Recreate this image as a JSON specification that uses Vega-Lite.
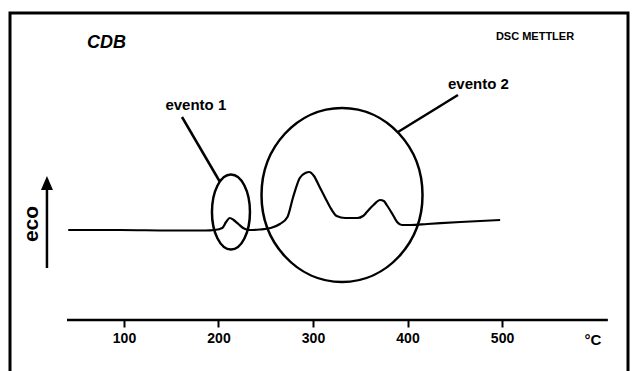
{
  "$schema": "https://vega.github.io/schema/vega-lite/v6.json",
  "width": 618,
  "height": 380,
  "autosize": {"type": "none"},
  "padding": {"left": 10, "top": 13, "right": 4, "bottom": 0},
  "background": "white",
  "config": {
    "view": {"stroke": "black", "strokeWidth": 3},
    "font": "Liberation Sans",
    "text": {"font": "Liberation Sans", "color": "black"}
  },
  "datasets": {
    "curve": [
      {"T": 41, "v": 163}, {"T": 96, "v": 163}, {"T": 149, "v": 162.5}, {"T": 186, "v": 162.5},
      {"T": 196, "v": 163}, {"T": 204, "v": 165}, {"T": 208, "v": 171}, {"T": 212, "v": 175},
      {"T": 216, "v": 173}, {"T": 221, "v": 169}, {"T": 226, "v": 165}, {"T": 233, "v": 163},
      {"T": 244, "v": 163.5}, {"T": 255, "v": 165}, {"T": 265, "v": 169}, {"T": 273, "v": 176},
      {"T": 279, "v": 196}, {"T": 286, "v": 215}, {"T": 292, "v": 220}, {"T": 296, "v": 221},
      {"T": 301, "v": 217}, {"T": 307, "v": 206}, {"T": 313, "v": 195}, {"T": 318, "v": 186},
      {"T": 325, "v": 177}, {"T": 334, "v": 175}, {"T": 347, "v": 175}, {"T": 353, "v": 177},
      {"T": 357, "v": 181}, {"T": 364, "v": 188}, {"T": 371, "v": 193}, {"T": 375, "v": 192},
      {"T": 378, "v": 188}, {"T": 384, "v": 179}, {"T": 389, "v": 171}, {"T": 394, "v": 168},
      {"T": 403, "v": 168}, {"T": 421, "v": 169}, {"T": 456, "v": 171}, {"T": 498, "v": 173}
    ],
    "rules": [
      {"T": 39.7, "v": 73, "T2": 612, "v2": 73},
      {"T": 161.4, "v": 276, "T2": 201.6, "v2": 211},
      {"T": 389.9, "v": 261, "T2": 453.4, "v2": 298},
      {"T": 18.5, "v": 125, "T2": 18.5, "v2": 206}
    ]
  },
  "encoding": {
    "x": {
      "field": "T",
      "type": "quantitative",
      "scale": {"domain": [-20.6, 633.3], "nice": false, "zero": false},
      "axis": {
        "title": null,
        "domain": false,
        "grid": false,
        "values": [100, 200, 300, 400, 500],
        "tickSize": 7,
        "tickWidth": 2,
        "tickColor": "black",
        "labelColor": "black",
        "labelFont": "Liberation Sans",
        "labelFontSize": 14,
        "labelFontWeight": "bold",
        "labelPadding": 4,
        "offset": -73
      }
    },
    "y": {
      "field": "v",
      "type": "quantitative",
      "scale": {"domain": [0, 380], "nice": false, "zero": false},
      "axis": null
    }
  },
  "layer": [
    {
      "data": {"name": "curve"},
      "mark": {"type": "line", "color": "black", "strokeWidth": 2.2, "interpolate": "monotone"}
    },
    {
      "data": {"name": "rules"},
      "mark": {"type": "rule", "color": "black", "strokeWidth": 2.5},
      "encoding": {
        "x2": {"field": "T2"},
        "y2": {"field": "v2"}
      }
    },
    {
      "data": {"values": [{"T": 213.2, "v": 181}]},
      "mark": {
        "type": "point",
        "shape": "M-19,0A19,37.5 0 1,1 19,0A19,37.5 0 1,1 -19,0Z",
        "size": 4,
        "filled": false,
        "stroke": "black",
        "strokeWidth": 2.5,
        "opacity": 1
      }
    },
    {
      "data": {"values": [{"T": 330.7, "v": 198}]},
      "mark": {
        "type": "point",
        "shape": "M-80.5,0A80.5,87 0 1,1 80.5,0A80.5,87 0 1,1 -80.5,0Z",
        "size": 4,
        "filled": false,
        "stroke": "black",
        "strokeWidth": 2.5,
        "opacity": 1
      }
    },
    {
      "data": {"values": [{"T": 18.5, "v": 209}]},
      "mark": {
        "type": "point",
        "shape": "M0,-8L6,6L-6,6Z",
        "size": 4,
        "filled": true,
        "color": "black",
        "opacity": 1
      }
    },
    {
      "data": {"values": [{"T": 176, "v": 288, "label": "evento 1"}, {"T": 475, "v": 309, "label": "evento 2"}]},
      "mark": {"type": "text", "fontSize": 15, "fontWeight": "bold", "align": "center", "baseline": "middle"},
      "encoding": {"text": {"field": "label"}}
    },
    {
      "data": {"values": [{"T": 60.8, "v": 350, "label": "CDB"}]},
      "mark": {"type": "text", "fontSize": 18, "fontWeight": "bold", "fontStyle": "italic", "align": "left", "baseline": "middle"},
      "encoding": {"text": {"field": "label"}}
    },
    {
      "data": {"values": [{"T": 534.9, "v": 356, "label": "DSC METTLER"}]},
      "mark": {"type": "text", "fontSize": 11, "fontWeight": "bold", "align": "center", "baseline": "middle"},
      "encoding": {"text": {"field": "label"}}
    },
    {
      "data": {"values": [{"T": 596.3, "v": 53, "label": "°C"}]},
      "mark": {"type": "text", "fontSize": 15, "fontWeight": "bold", "align": "center", "baseline": "middle"},
      "encoding": {"text": {"field": "label"}}
    },
    {
      "data": {"values": [{"T": 2.6, "v": 169, "label": "eco"}]},
      "mark": {"type": "text", "fontSize": 21, "fontWeight": "bold", "angle": 270, "align": "center", "baseline": "middle"},
      "encoding": {"text": {"field": "label"}}
    }
  ]
}
